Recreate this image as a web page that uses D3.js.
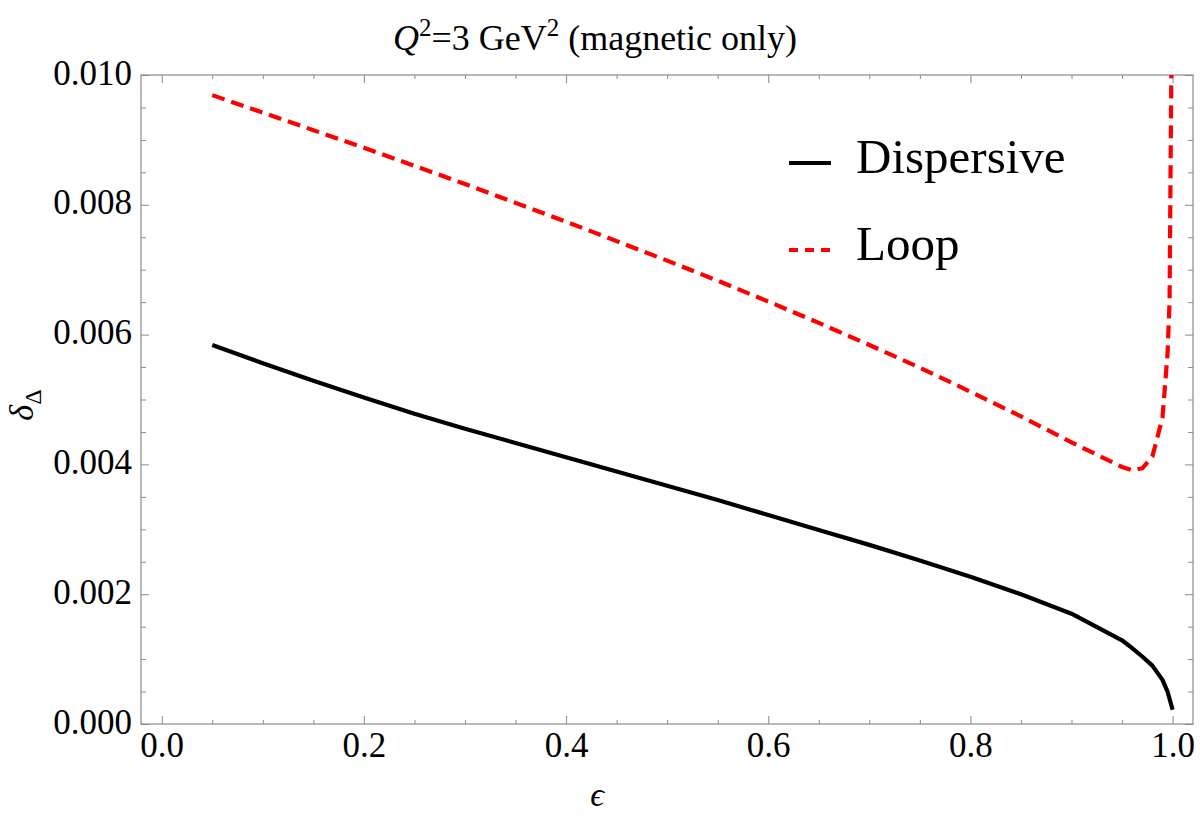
<!DOCTYPE html>
<html>
<head>
<meta charset="utf-8">
<script src="https://cdn.jsdelivr.net/npm/d3@7"></script>
<style>
  html, body { margin: 0; padding: 0; background: #fff; }
  svg { display: block; }
  text { font-family: "Liberation Serif", "Times New Roman", serif; fill: #000; }
</style>
</head>
<body>
<svg id="chart" width="1200" height="821"></svg>
<script>
// ---- data ----
const epsDisp = [0.05,0.10,0.15,0.20,0.25,0.30,0.35,0.40,0.45,0.50,0.55,0.60,0.65,0.70,0.75,0.80,0.85,0.90,0.95,0.96,0.97,0.98,0.99,0.995,1.0];
const dispersive = [0.00584,0.00556,0.00529,0.00503,0.00478,0.00455,0.00433,0.00411,0.00389,0.00367,0.00345,0.00322,0.00299,0.00276,0.00252,0.00227,0.00200,0.00170,0.00129,0.00117,0.00104,0.00090,0.00068,0.00050,0.00022];
const epsLoop = [0.05,0.10,0.15,0.20,0.25,0.30,0.35,0.40,0.45,0.50,0.55,0.60,0.65,0.70,0.75,0.80,0.85,0.90,0.95,0.96,0.97,0.98,0.99,0.995,0.997,0.999];
const loop = [0.00969,0.00942,0.00915,0.00888,0.00860,0.00832,0.00803,0.00774,0.00744,0.00714,0.00683,0.00651,0.00618,0.00584,0.00549,0.00512,0.00474,0.00434,0.00396,0.00391,0.00394,0.00412,0.00472,0.00570,0.00650,0.01050];
const xMajorTicks = [0.0,0.2,0.4,0.6,0.8,1.0];
const xTickLabels = ["0.0","0.2","0.4","0.6","0.8","1.0"];
const yMajorTicks = [0.000,0.002,0.004,0.006,0.008,0.010];
const yTickLabels = ["0.000","0.002","0.004","0.006","0.008","0.010"];
const seriesNames = ["Dispersive","Loop"];

// ---- layout ----
const L = 141, R = 1193, T = 75, B = 724;
const x = d3.scaleLinear().domain([-0.0205, 1.0202]).range([L, R]);
const y = d3.scaleLinear().domain([0, 0.010]).range([B, T]);
const svg = d3.select("#chart");
const axisColor = "#8a8a8a";

const xMinor = d3.range(0, 21).map(i => i * 0.05).filter(v => !xMajorTicks.some(m => Math.abs(m - v) < 1e-9));
const yMinor = d3.range(0, 21).map(i => i * 0.0005).filter(v => !yMajorTicks.some(m => Math.abs(m - v) < 1e-9));

function styleAxis(g) {
  g.select(".domain").remove();
  g.selectAll(".tick line").attr("stroke", axisColor).attr("stroke-width", 1);
}

// bottom
svg.append("g").attr("transform", `translate(0,${B})`)
  .call(d3.axisBottom(x).tickValues(xMajorTicks).tickSize(-8).tickFormat((d,i) => xTickLabels[i]))
  .call(styleAxis)
  .call(g => g.selectAll(".tick text").attr("y", 33).attr("dy", null).attr("font-size", 35).attr("font-family", "Liberation Serif").attr("fill", "#000"));
svg.append("g").attr("transform", `translate(0,${B})`)
  .call(d3.axisBottom(x).tickValues(xMinor).tickSize(-4).tickFormat(""))
  .call(styleAxis);
// top
svg.append("g").attr("transform", `translate(0,${T})`)
  .call(d3.axisTop(x).tickValues(xMajorTicks).tickSize(-8).tickFormat(""))
  .call(styleAxis);
svg.append("g").attr("transform", `translate(0,${T})`)
  .call(d3.axisTop(x).tickValues(xMinor).tickSize(-4).tickFormat(""))
  .call(styleAxis);
// left
svg.append("g").attr("transform", `translate(${L},0)`)
  .call(d3.axisLeft(y).tickValues(yMajorTicks).tickSize(-8).tickFormat((d,i) => yTickLabels[i]))
  .call(styleAxis)
  .call(g => g.selectAll(".tick text").attr("x", -9).attr("dy", 9).attr("font-size", 35).attr("font-family", "Liberation Serif").attr("fill", "#000"));
svg.append("g").attr("transform", `translate(${L},0)`)
  .call(d3.axisLeft(y).tickValues(yMinor).tickSize(-5).tickFormat(""))
  .call(styleAxis);
// right
svg.append("g").attr("transform", `translate(${R},0)`)
  .call(d3.axisRight(y).tickValues(yMajorTicks).tickSize(-8).tickFormat(""))
  .call(styleAxis);
svg.append("g").attr("transform", `translate(${R},0)`)
  .call(d3.axisRight(y).tickValues(yMinor).tickSize(-5).tickFormat(""))
  .call(styleAxis);

// frame
svg.append("rect").attr("x", L).attr("y", T).attr("width", R - L).attr("height", B - T)
  .attr("fill", "none").attr("stroke", axisColor).attr("stroke-width", 1.2);

// clip
svg.append("clipPath").attr("id", "clip").append("rect")
  .attr("x", L).attr("y", T).attr("width", R - L).attr("height", B - T);

const line = d3.line().x(d => x(d[0])).y(d => y(d[1]));
svg.append("path").datum(epsDisp.map((e, i) => [e, dispersive[i]]))
  .attr("clip-path", "url(#clip)")
  .attr("d", line).attr("fill", "none").attr("stroke", "#000").attr("stroke-width", 4.2)
  .attr("stroke-linejoin", "round");
svg.append("path").datum(epsLoop.map((e, i) => [e, loop[i]]))
  .attr("clip-path", "url(#clip)")
  .attr("d", line).attr("fill", "none").attr("stroke", "#ff0000").attr("stroke-width", 4.2)
  .attr("stroke-dasharray", "13,7").attr("stroke-linejoin", "round");

// legend
const leg = svg.append("g");
leg.append("line").attr("x1", 789).attr("x2", 831).attr("y1", 163).attr("y2", 163)
  .attr("stroke", "#000").attr("stroke-width", 4.2);
leg.append("text").attr("x", 856).attr("y", 173).attr("font-size", 49).text(seriesNames[0]);
leg.append("line").attr("x1", 789).attr("x2", 831).attr("y1", 250).attr("y2", 250)
  .attr("stroke", "#ff0000").attr("stroke-width", 4.2).attr("stroke-dasharray", "9,7");
leg.append("text").attr("x", 856).attr("y", 260).attr("font-size", 49).text(seriesNames[1]);

// title
const title = svg.append("text").attr("x", 595).attr("y", 50).attr("text-anchor", "middle").attr("font-size", 36);
title.append("tspan").attr("font-style", "italic").text("Q");
title.append("tspan").attr("font-size", 25).attr("dy", -14).text("2");
title.append("tspan").attr("dy", 14).text("=3 GeV");
title.append("tspan").attr("font-size", 25).attr("dy", -14).text("2");
title.append("tspan").attr("dy", 14).text(" (magnetic only)");

// x label
svg.append("text").attr("x", 597).attr("y", 806).attr("text-anchor", "middle")
  .attr("font-size", 34).attr("font-style", "italic").text("ϵ");

// y label
const yl = svg.append("text").attr("transform", "translate(33,405) rotate(-90)")
  .attr("text-anchor", "middle").attr("font-size", 34);
yl.append("tspan").attr("font-style", "italic").text("δ");
yl.append("tspan").attr("font-size", 24).attr("dy", 8).text("Δ");
</script>
</body>
</html>
